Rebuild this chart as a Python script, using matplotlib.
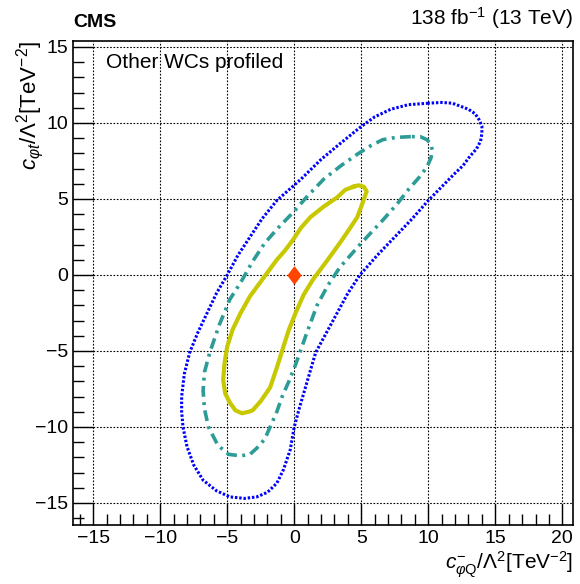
import numpy as np
import matplotlib.pyplot as plt
from matplotlib.path import Path
from matplotlib.ticker import MultipleLocator

plt.rcParams['font.family'] = ['Liberation Sans', 'DejaVu Sans']
plt.rcParams['mathtext.fontset'] = 'custom'
plt.rcParams['mathtext.rm'] = 'Liberation Sans'
plt.rcParams['mathtext.it'] = 'Liberation Sans:italic'
plt.rcParams['mathtext.bf'] = 'Liberation Sans:bold'

# contour points (c_phiQ^-, c_phit)
blue_x = [10.0, 8.5, 7.2, 6.0, 4.9, 3.5, 2.0, 0.5, -1.3, -2.4, -3.3, -4.2,
          -5.0, -5.8, -6.5, -7.2, -7.8, -8.2, -8.4, -8.4, -8.3, -8.0, -7.5,
          -6.8, -5.8, -4.8, -3.7, -2.8, -2.0, -1.3, -0.8, -0.3, 0.0, 0.4, 0.8,
          1.2, 1.6, 2.4, 3.2, 4.0, 4.9, 6.2, 7.5, 8.8, 10.0, 11.0, 12.0, 12.6,
          13.1, 13.6, 13.9, 14.0, 14.0, 13.8, 13.5, 13.0, 12.4, 11.8, 11.0, 10.0]
blue_y = [11.3, 11.2, 10.9, 10.4, 9.7, 8.7, 7.6, 6.3, 4.9, 3.7, 2.5, 1.3,
          0.0, -1.2, -2.5, -3.8, -5.1, -6.5, -8.0, -9.0, -10.0, -11.3, -12.5,
          -13.5, -14.2, -14.6, -14.7, -14.6, -14.3, -13.7, -12.8, -11.5, -10.0,
          -8.7, -7.5, -6.3, -5.1, -3.8, -2.5, -1.2, 0.0, 1.3, 2.5, 3.7, 4.9,
          5.8, 6.7, 7.2, 7.8, 8.3, 8.8, 9.3, 9.8, 10.2, 10.6, 10.9, 11.1, 11.3,
          11.35, 11.3]

teal_x = [8.7, 7.6, 6.6, 5.7, 4.8, 3.5, 2.2, 1.0, -0.1, -1.2, -2.2, -3.1,
          -4.0, -4.8, -5.6, -6.3, -6.7, -6.8, -6.7, -6.4, -5.7, -4.9, -4.0,
          -3.3, -2.8, -2.2, -1.8, -1.3, -0.9, -0.4, 0.1, 0.9, 1.7, 2.5, 3.4,
          5.0, 6.6, 7.7, 8.5, 9.3, 9.9, 10.2, 10.3, 10.2, 9.9, 9.4, 8.7]
teal_y = [9.1, 9.05, 8.9, 8.5, 8.0, 7.2, 6.3, 5.2, 4.1, 3.1, 2.1, 0.9,
          -0.5, -1.6, -3.3, -5.1, -6.4, -7.6, -8.8, -10.0, -11.2, -11.8, -11.9,
          -11.8, -11.4, -10.8, -10.0, -9.0, -8.0, -7.0, -5.9, -3.9, -2.0, -0.7,
          0.5, 2.1, 3.6, 4.7, 5.6, 6.4, 7.1, 7.7, 8.2, 8.6, 8.9, 9.1, 9.1]

yellow_x = [4.4, 3.8, 3.2, 2.2, 1.2, 0.5, -0.1, -0.7, -1.3, -2.3, -3.3, -4.0,
            -4.6, -5.0, -5.2, -5.3, -5.15, -4.8, -4.4, -3.9, -3.4, -3.1, -2.5,
            -1.8, -1.3, -0.8, -0.4, 0.1, 0.7, 1.4, 2.5, 3.4, 4.1, 4.7, 5.0,
            5.2, 5.4, 5.2, 4.8, 4.4]
yellow_y = [5.8, 5.6, 5.1, 4.5, 3.8, 3.1, 2.3, 1.6, 1.0, -0.2, -1.4, -2.5,
            -3.6, -4.7, -5.8, -6.9, -7.8, -8.4, -8.9, -9.1, -9.0, -8.9, -8.3,
            -7.4, -6.1, -4.7, -3.6, -2.5, -1.3, -0.3, 1.0, 2.1, 3.0, 3.8, 4.5,
            5.0, 5.5, 5.8, 5.9, 5.8]

best_x = [0.0]
best_y = [0.0]

diamond = Path([(0, -1), (0.75, 0), (0, 1), (-0.75, 0), (0, -1)])

fig = plt.figure(figsize=(5.8, 5.84), dpi=100)
ax = fig.add_axes([0.126, 0.101, 0.862, 0.829])

ax.plot(blue_x, blue_y, color='#0000ff', lw=2.2, ls=(0, (0.8, 0.6)))
ax.plot(teal_x, teal_y, color='#2e9c96', lw=2.6, ls=(0, (3, 1.5, 0.8, 1.5)))
ax.plot(yellow_x, yellow_y, color='#c8c800', lw=3.0)
ax.plot(best_x, best_y, marker=diamond, color='#ff4500', markersize=12, ls='none')

ax.set_xlim(-16.5, 20.8)
ax.set_ylim(-16.45, 15.4)
ax.xaxis.set_major_locator(MultipleLocator(5))
ax.xaxis.set_minor_locator(MultipleLocator(1))
ax.yaxis.set_major_locator(MultipleLocator(5))
ax.yaxis.set_minor_locator(MultipleLocator(1))
ax.tick_params(which='both', direction='in', top=False, right=False,
               labelsize=14, width=1)
ax.tick_params(which='major', length=15)
ax.tick_params(which='minor', length=8)
ax.grid(True, which='major', color='black', ls=(0, (1.5, 1.5)), lw=0.8)
for s in ax.spines.values():
    s.set_linewidth(1.2)

ax.set_xlabel(r'$c^{-}_{\varphi\mathrm{Q}}/\Lambda^{2}$[TeV$^{-2}$]',
              fontsize=15, loc='right', labelpad=2)
ax.set_ylabel(r'$c_{\varphi t}/\Lambda^{2}$[TeV$^{-2}$]',
              fontsize=16, loc='top')
ax.yaxis.set_label_coords(-0.055, 1.0)

ax.text(0.0, 1.02, 'CMS', transform=ax.transAxes, fontsize=14,
        fontweight='bold', ha='left', va='bottom')
ax.text(1.0, 1.02, r'138 fb$^{-1}$ (13 TeV)', transform=ax.transAxes,
        fontsize=15, ha='right', va='bottom')
ax.text(0.065, 0.975, 'Other WCs profiled', transform=ax.transAxes,
        fontsize=15, ha='left', va='top')

fig.savefig('out.png', dpi=100)
